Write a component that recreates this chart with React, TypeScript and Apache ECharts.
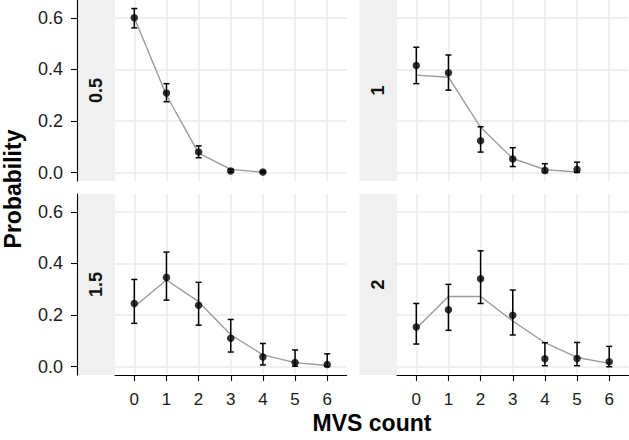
import React, { useEffect, useRef } from 'react';
import * as echarts from 'echarts';

// ---- data ----
const counts = [0, 1, 2, 3, 4, 5, 6];
const xTicks = [0, 1, 2, 3, 4, 5, 6];
const yTicks = [0, 0.2, 0.4, 0.6];
const panelLabels = ['0.5', '1', '1.5', '2'];

// panel "0.5"
const obs05 = [0.6, 0.309, 0.08, 0.007, 0.003];
const lo05 = [0.561, 0.275, 0.058, 0.002, 0.0];
const hi05 = [0.636, 0.345, 0.104, 0.013, 0.007];
const fit05 = [0.6, 0.3, 0.076, 0.013, 0.002];

// panel "1"
const obs1 = [0.415, 0.387, 0.124, 0.053, 0.009, 0.013];
const lo1 = [0.345, 0.32, 0.08, 0.024, 0.001, 0.001];
const hi1 = [0.486, 0.456, 0.178, 0.097, 0.035, 0.041];
const fit1 = [0.378, 0.37, 0.176, 0.055, 0.012, 0.003];

// panel "1.5"
const obs15 = [0.245, 0.346, 0.238, 0.11, 0.038, 0.016, 0.009];
const lo15 = [0.168, 0.258, 0.161, 0.057, 0.007, 0.002, 0.001];
const hi15 = [0.338, 0.444, 0.327, 0.183, 0.09, 0.065, 0.05];
const fit15 = [0.232, 0.336, 0.252, 0.124, 0.046, 0.016, 0.005];

// panel "2"
const obs2 = [0.154, 0.221, 0.341, 0.199, 0.031, 0.032, 0.019];
const lo2 = [0.088, 0.141, 0.245, 0.123, 0.004, 0.004, 0.0];
const hi2 = [0.245, 0.319, 0.449, 0.297, 0.093, 0.094, 0.079];
const fit2 = [0.148, 0.272, 0.272, 0.177, 0.093, 0.036, 0.013];

const yTitle = 'Probability';
const xTitle = 'MVS count';

const FONT = "'Liberation Sans', Arial, Helvetica, sans-serif";

export default function App() {
  const ref = useRef<HTMLDivElement>(null);

  useEffect(() => {
    if (!ref.current) return;
    const chart = echarts.init(ref.current, null, { renderer: 'svg' });

    const panels = [
      { obs: obs05, lo: lo05, hi: hi05, fit: fit05 },
      { obs: obs1, lo: lo1, hi: hi1, fit: fit1 },
      { obs: obs15, lo: lo15, hi: hi15, fit: fit15 },
      { obs: obs2, lo: lo2, hi: hi2, fit: fit2 },
    ];

    const lefts = [115, 397, 115, 397];
    const tops = [0, 0, 194, 194];
    const W = 231.5;
    const H = 181;
    const STRIP = 38;

    const grid = lefts.map((l, i) => ({ left: l, top: tops[i], width: W, height: H }));

    const xAxis = lefts.map((_, i) => {
      const bottom = i >= 2;
      return {
        type: 'value',
        gridIndex: i,
        min: -0.6,
        max: 6.6,
        axisLine: { show: bottom, onZero: false, lineStyle: { color: '#000', width: 1.1 } },
        axisTick: { show: bottom, length: 6, customValues: xTicks, lineStyle: { color: '#000', width: 1.1 } },
        axisLabel: {
          show: bottom,
          customValues: xTicks,
          fontSize: 17,
          color: '#1a1a1a',
          fontFamily: FONT,
          margin: 16,
        },
        splitLine: { show: true, lineStyle: { color: '#ebebeb', width: 1.5 } },
      };
    });

    const yAxis = lefts.map((_, i) => {
      const left = i % 2 === 0;
      return {
        type: 'value',
        gridIndex: i,
        min: -0.032,
        max: 0.669,
        offset: left ? STRIP : 0,
        axisLine: { show: left, onZero: false, lineStyle: { color: '#000', width: 1.1 } },
        axisTick: { show: left, length: 6, customValues: yTicks, lineStyle: { color: '#000', width: 1.1 } },
        axisLabel: {
          show: left,
          customValues: yTicks,
          formatter: (v: number) => v.toFixed(1),
          fontSize: 18,
          color: '#1a1a1a',
          fontFamily: FONT,
          margin: 14,
        },
        splitLine: { show: true, lineStyle: { color: '#ebebeb', width: 1.5 } },
      };
    });

    const series: any[] = [];
    panels.forEach((p, i) => {
      series.push({
        type: 'line',
        xAxisIndex: i,
        yAxisIndex: i,
        data: p.fit.map((v, k) => [counts[k], v]),
        showSymbol: false,
        lineStyle: { color: '#9a9a9a', width: 1.4 },
        z: 2,
        silent: true,
      });
      series.push({
        type: 'custom',
        xAxisIndex: i,
        yAxisIndex: i,
        data: p.lo.map((v, k) => [counts[k], v, p.hi[k]]),
        encode: { x: 0, y: [1, 2] },
        z: 3,
        silent: true,
        renderItem: (params: any, api: any) => {
          const x = api.value(0);
          const a = api.coord([x, api.value(1)]);
          const b = api.coord([x, api.value(2)]);
          const hw = 3;
          const st = { stroke: '#000', lineWidth: 1.5 };
          return {
            type: 'group',
            children: [
              { type: 'line', shape: { x1: a[0], y1: a[1], x2: b[0], y2: b[1] }, style: st },
              { type: 'line', shape: { x1: a[0] - hw, y1: a[1], x2: a[0] + hw, y2: a[1] }, style: st },
              { type: 'line', shape: { x1: b[0] - hw, y1: b[1], x2: b[0] + hw, y2: b[1] }, style: st },
            ],
          };
        },
      });
      series.push({
        type: 'scatter',
        xAxisIndex: i,
        yAxisIndex: i,
        data: p.obs.map((v, k) => [counts[k], v]),
        symbol: 'circle',
        symbolSize: 7.5,
        itemStyle: { color: '#000' },
        z: 4,
        silent: true,
      });
    });

    const graphic: any[] = [];
    lefts.forEach((l, i) => {
      graphic.push({
        type: 'rect',
        z: 0,
        shape: { x: l - STRIP + 0.5, y: tops[i], width: STRIP - 0.5, height: H },
        style: { fill: '#f0f0f0' },
      });
      graphic.push({
        type: 'text',
        z: 1,
        x: l - STRIP / 2,
        y: tops[i] + H / 2,
        rotation: Math.PI / 2,
        style: {
          text: panelLabels[i],
          fontSize: 18,
          fontWeight: 'bold',
          fontFamily: FONT,
          fill: '#111',
          align: 'center',
          verticalAlign: 'middle',
          textAlign: 'center',
          textVerticalAlign: 'middle',
        },
      });
    });
    graphic.push({
      type: 'text',
      x: 13,
      y: 189,
      rotation: Math.PI / 2,
      style: {
        text: yTitle,
        fontSize: 23,
        fontWeight: 'bold',
        fontFamily: FONT,
        fill: '#000',
        align: 'center',
        verticalAlign: 'middle',
        textAlign: 'center',
        textVerticalAlign: 'middle',
      },
    });
    graphic.push({
      type: 'text',
      x: 372,
      y: 423,
      style: {
        text: xTitle,
        fontSize: 23,
        fontWeight: 'bold',
        fontFamily: FONT,
        fill: '#000',
        align: 'center',
        verticalAlign: 'middle',
        textAlign: 'center',
        textVerticalAlign: 'middle',
      },
    });

    chart.setOption({
      animation: false,
      backgroundColor: '#fff',
      textStyle: { fontFamily: FONT },
      grid,
      xAxis,
      yAxis,
      series,
      graphic,
    });

    return () => chart.dispose();
  }, []);

  return (
    <div
      ref={ref}
      style={{ position: 'fixed', left: 0, top: 0, width: 629, height: 440 }}
    />
  );
}
